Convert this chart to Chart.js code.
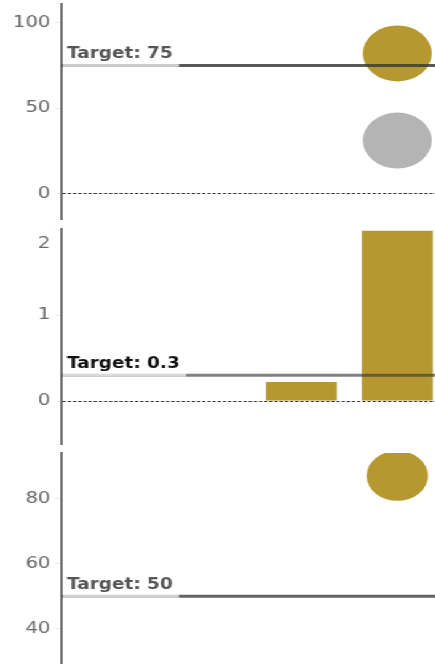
<!DOCTYPE html>
<html>
<head>
<meta charset="utf-8">
<script src="https://cdn.jsdelivr.net/npm/chart.js@4/dist/chart.umd.min.js"></script>
<style>
  html, body { margin: 0; padding: 0; background: #fff; overflow: hidden; width: 435px; height: 664px; }
  #board { position: absolute; left: 0; top: 0; width: 362px; height: 672px; transform: scaleX(1.23); transform-origin: 0 0; }
  #board canvas { position: absolute; left: 0; }
</style>
</head>
<body>
<div id="board">
  <canvas id="scoreChart" width="362" height="224" style="top:0"></canvas>
  <canvas id="ratioChart" width="362" height="224" style="top:224px"></canvas>
  <canvas id="rateChart" width="362" height="224" style="top:448px"></canvas>
</div>
<script>
// Categories shared by the three stacked panels
const categories = ['Q1', 'Q2', 'Q3', 'Q4'];

// Panel 1: score
const scoreCurrent = [null, null, null, 82];
const scorePrevious = [null, null, null, 31];
const scoreTicks = [0, 50, 100];

// Panel 2: ratio
const ratioValues = [null, null, 0.22, 1.98];
const ratioTicks = [0, 1, 2];

// Panel 3: rate
const rateCurrent = [null, null, null, 87];
const rateTicks = [40, 60, 80];

// Target levels, one per panel
const targets = [75, 0.3, 50];

const GOLD = '#b5982f';
const GRAY = '#b4b4b4';

// Draws the dotted zero baseline and the labelled target line above the data
const targetLine = {
  id: 'targetLine',
  afterDatasetsDraw(chart, args, opts) {
    const { ctx, chartArea: area, scales: { y } } = chart;
    ctx.save();
    if (opts.zeroLine && y.min <= 0 && y.max >= 0) {
      const y0 = Math.round(y.getPixelForValue(0)) + 0.5;
      ctx.setLineDash([2.6, 1.6]);
      ctx.strokeStyle = '#333';
      ctx.lineWidth = 1;
      ctx.beginPath();
      ctx.moveTo(area.left + 1, y0);
      ctx.lineTo(area.right, y0);
      ctx.stroke();
      ctx.setLineDash([]);
    }
    const yt = y.getPixelForValue(opts.value);
    ctx.strokeStyle = opts.lineColor;
    ctx.lineWidth = 3;
    ctx.beginPath();
    ctx.moveTo(area.left, yt);
    ctx.lineTo(area.right, yt);
    ctx.stroke();

    const text = 'Target: ' + opts.value;
    ctx.font = 'bold 15px "DejaVu Sans"';
    const tw = ctx.measureText(text).width;
    ctx.fillStyle = 'rgba(255,255,255,0.7)';
    ctx.fillRect(area.left + 1, yt - 24.5, tw + 8.5, 26);
    ctx.fillStyle = opts.textColor;
    ctx.textBaseline = 'alphabetic';
    ctx.textAlign = 'left';
    ctx.fillText(text, area.left + 4.5, yt - 7.5);
    ctx.restore();
  }
};

function yAxis(min, max, tickValues, nudgeTop) {
  // nudgeTop: the label at the very top edge is pushed down to stay inside the panel
  const isTop = v => nudgeTop && v === max;
  return {
    min: min,
    max: max,
    afterBuildTicks: s => { s.ticks = tickValues.map(v => ({ value: v })); },
    afterFit: s => { s.width = 50; s.paddingTop = 0; s.paddingBottom = 0; },
    border: { color: '#707070', width: 2 },
    grid: { drawOnChartArea: false, drawTicks: true, tickLength: 5, color: '#ececec', tickColor: '#ececec' },
    ticks: {
      padding: 4,
      color: '#6b6b6b',
      font: c => ({ family: 'DejaVu Sans', size: 16, lineHeight: (c.tick && isTop(c.tick.value)) ? '29px' : 1.2 }),
      callback: v => isTop(v) ? ['', String(v)] : String(v)
    }
  };
}

function panelOptions(y, pad, target, lineColor, textColor, zeroLine) {
  return {
    responsive: false,
    animation: false,
    events: [],
    layout: { autoPadding: false, padding: { top: pad[0], bottom: pad[1], left: 0, right: 0 } },
    scales: {
      x: { display: false, offset: true },
      y: y
    },
    plugins: {
      legend: { display: false },
      tooltip: { enabled: false },
      targetLine: { value: target, lineColor: lineColor, textColor: textColor, zeroLine: zeroLine }
    }
  };
}

function dots(values, color, radius) {
  return {
    data: values,
    showLine: false,
    pointRadius: radius,
    pointHoverRadius: radius,
    pointBorderWidth: 0,
    pointBackgroundColor: color,
    borderColor: color,
    clip: 0
  };
}

new Chart(document.getElementById('scoreChart'), {
  type: 'line',
  data: {
    labels: categories,
    datasets: [dots(scoreCurrent, GOLD, 28), dots(scorePrevious, GRAY, 28)]
  },
  options: panelOptions(yAxis(-15, 111, scoreTicks, false), [4, 5], targets[0], 'rgba(60,60,60,0.85)', '#555555', true),
  plugins: [targetLine]
});

new Chart(document.getElementById('ratioChart'), {
  type: 'bar',
  data: {
    labels: categories,
    datasets: [{
      data: ratioValues,
      backgroundColor: GOLD,
      borderWidth: 0,
      categoryPercentage: 0.8,
      barPercentage: 0.925
    }]
  },
  options: panelOptions(yAxis(-0.5, 2, ratioTicks, true), [5, 4], targets[1], 'rgba(60,60,60,0.65)', '#111111', true),
  plugins: [targetLine]
});

new Chart(document.getElementById('rateChart'), {
  type: 'line',
  data: {
    labels: categories,
    datasets: [dots(rateCurrent, GOLD, 25)]
  },
  options: panelOptions(yAxis(28, 94, rateTicks, false), [5, 4], targets[2], 'rgba(60,60,60,0.8)', '#555555', false),
  plugins: [targetLine]
});
</script>
</body>
</html>
